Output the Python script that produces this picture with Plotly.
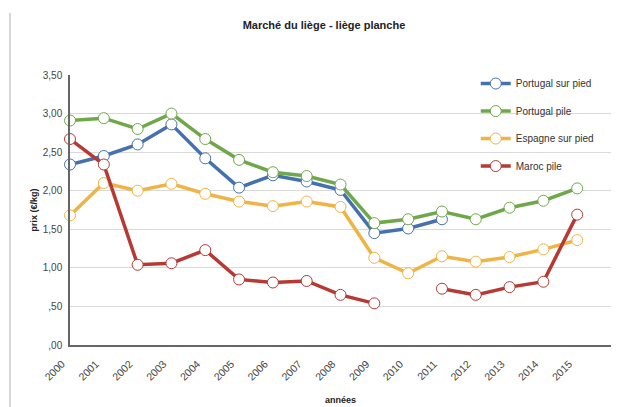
import plotly.graph_objects as go

years = ["2000", "2001", "2002", "2003", "2004", "2005", "2006", "2007",
         "2008", "2009", "2010", "2011", "2012", "2013", "2014", "2015"]
portugal_sur_pied = [2.34, 2.45, 2.60, 2.86, 2.42, 2.04, 2.20, 2.12,
                     2.01, 1.45, 1.51, 1.63, None, None, None, None]
portugal_pile = [2.91, 2.94, 2.80, 3.00, 2.67, 2.40, 2.24, 2.19,
                 2.08, 1.58, 1.63, 1.73, 1.63, 1.78, 1.87, 2.03]
espagne_sur_pied = [1.68, 2.10, 2.00, 2.09, 1.96, 1.86, 1.80, 1.86,
                    1.79, 1.13, 0.93, 1.15, 1.08, 1.14, 1.24, 1.36]
maroc_pile = [2.67, 2.34, 1.04, 1.06, 1.23, 0.85, 0.81, 0.83,
              0.65, 0.54, None, 0.73, 0.65, 0.75, 0.82, 1.69]

y_tickvals = [0, 0.5, 1.0, 1.5, 2.0, 2.5, 3.0, 3.5]
y_ticktext = [",00", ",50", "1,00", "1,50", "2,00", "2,50", "3,00", "3,50"]

series = [
    ("Portugal sur pied", portugal_sur_pied, "#4571b0"),
    ("Portugal pile", portugal_pile, "#6fa84a"),
    ("Espagne sur pied", espagne_sur_pied, "#efb446"),
    ("Maroc pile", maroc_pile, "#b63a33"),
]

xpos = list(range(len(years)))

fig = go.Figure()
for name, vals, color in series:
    fig.add_trace(go.Scatter(
        x=xpos, y=vals, name=name, mode="lines+markers",
        legendgroup=name,
        line=dict(color=color, width=3.5),
        marker=dict(size=11, color="white", line=dict(color=color, width=1)),
        connectgaps=False, cliponaxis=False,
    ))

font_family = "Liberation Sans, Arial, sans-serif"

fig.update_layout(
    width=619, height=407,
    margin=dict(l=62, r=16.3, t=67, b=70, autoexpand=False),
    paper_bgcolor="white", plot_bgcolor="white",
    font=dict(family=font_family, size=10, color="#333333"),
    title=dict(text="<b>Marché du liège - liège planche</b>",
               x=(324 - 8) / 619, xanchor="center", y=1 - 17 / 407, yanchor="middle",
               font=dict(size=11, color="#222222")),
    showlegend=True,
    legend=dict(x=0.75, y=1.022, xanchor="left", yanchor="top",
                bgcolor="rgba(0,0,0,0)", font=dict(size=10, color="#333333"),
                tracegroupgap=8.5, itemwidth=30),
    xaxis=dict(range=[0, 16], tickvals=xpos, ticktext=years, tickangle=-45,
               showgrid=False, zeroline=False, showline=True, automargin=False,
               linecolor="#666666", linewidth=1.5,
               tickfont=dict(size=10.5, color="#444444"),
               ticklabelshift=-8, ticklabelstandoff=7,
               title=dict(text="<b>années</b>", font=dict(size=9, color="#222222"),
                          standoff=15)),
    yaxis=dict(range=[0, 3.5], tickvals=y_tickvals, ticktext=y_ticktext,
               showgrid=True, gridcolor="#d9d9d9", gridwidth=1, automargin=False,
               zeroline=False, showline=True, linecolor="#666666", linewidth=1.5,
               tickfont=dict(size=10, color="#444444"), ticklabelstandoff=4,
               title=dict(text="<b>prix (€/kg)</b>", font=dict(size=9, color="#222222"),
                          standoff=4)),
)

fig.add_shape(type="line", xref="paper", yref="paper",
              x0=(2 - 62) / 540.7, x1=(2 - 62) / 540.7,
              y0=(337 - 407) / 270, y1=(337 - 5) / 270,
              line=dict(color="#d8d8d8", width=2))

fig.write_html("out.html")
